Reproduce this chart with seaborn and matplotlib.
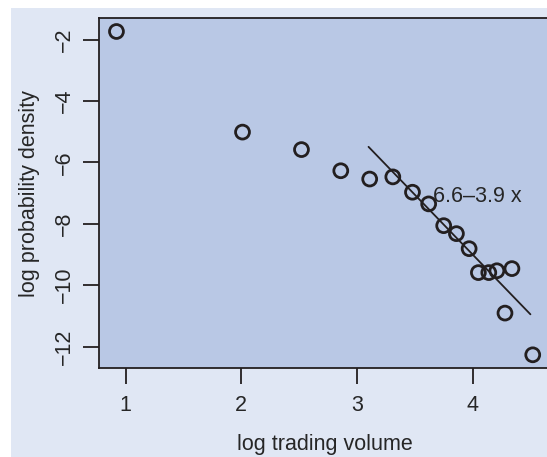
import matplotlib
matplotlib.use("Agg")
import matplotlib.pyplot as plt
from matplotlib.patches import Rectangle
import numpy as np
import pandas as pd
import seaborn as sns

# ---- data ----
log_volume = [0.92, 2.01, 2.52, 2.86, 3.11, 3.31, 3.48, 3.62, 3.75, 3.86,
              3.97, 4.05, 4.14, 4.21, 4.34, 4.28, 4.52]
log_density = [-1.73, -5.01, -5.58, -6.27, -6.54, -6.47, -6.97, -7.35, -8.06,
               -8.32, -8.81, -9.59, -9.59, -9.53, -9.46, -10.91, -12.27]
fit_intercept = 6.6
fit_slope = -3.9
fit_range = [3.1, 4.5]
fit_label = "6.6\u20133.9 x"
x_ticks = [1, 2, 3, 4]
y_ticks = [-2, -4, -6, -8, -10, -12]

sns.set_theme(style="ticks")
plt.rcParams["font.family"] = ["Liberation Sans", "DejaVu Sans"]

ink = "#231f20"
txt = "#262626"
panel_col = "#b9c8e5"
outer_col = "#e0e7f4"

fig = plt.figure(figsize=(5.47, 4.57), dpi=100, facecolor="white")
fig.add_artist(Rectangle((11 / 547, 0), 1, (457 - 8) / 457,
                         transform=fig.transFigure, facecolor=outer_col,
                         edgecolor="none", zorder=-10))
ax = fig.add_axes([99 / 547, 1 - 368 / 457, (551 - 99) / 547, (368 - 18.3) / 457])
ax.set_facecolor(panel_col)

df = pd.DataFrame({"x": log_volume, "y": log_density})
sns.scatterplot(data=df, x="x", y="y", ax=ax, marker="o", s=100,
                linewidth=2.0, legend=False)
for coll in ax.collections:
    coll.set_facecolor("none")
    coll.set_edgecolor(ink)
    coll.set_linewidth(2.0)

fit_df = pd.DataFrame({"x": fit_range,
                       "y": [fit_intercept + fit_slope * v for v in fit_range]})
sns.lineplot(data=fit_df, x="x", y="y", ax=ax, color=ink, linewidth=1.3)

ax.text(3.655, -7.12, fit_label, ha="left", va="center", fontsize=15.5, color=txt)

ax.set_xlim(0.769, 4.678)
ax.set_ylim(-12.70, -1.30)
ax.set_xticks(x_ticks)
ax.set_xticklabels([str(t) for t in x_ticks])
ax.set_yticks(y_ticks)
ax.set_yticklabels([f"\u2212{abs(t)}" for t in y_ticks])
for lab in ax.get_yticklabels():
    lab.set_rotation(90)
    lab.set_va("center")

ax.tick_params(axis="both", direction="out", length=11.5, width=1.3,
               color=ink, labelsize=15.5, labelcolor=txt)
ax.tick_params(axis="x", pad=8.0)
ax.tick_params(axis="y", pad=5.5)

ax.set_xlabel("log trading volume", fontsize=15.5, color=txt, labelpad=13)
ax.set_ylabel("log probability density", fontsize=15.5, color=txt, labelpad=10)

for side in ["left", "top", "bottom", "right"]:
    ax.spines[side].set_color(ink)
    ax.spines[side].set_linewidth(1.3)
ax.grid(False)

fig.savefig("out.png", dpi=100, facecolor="white")
